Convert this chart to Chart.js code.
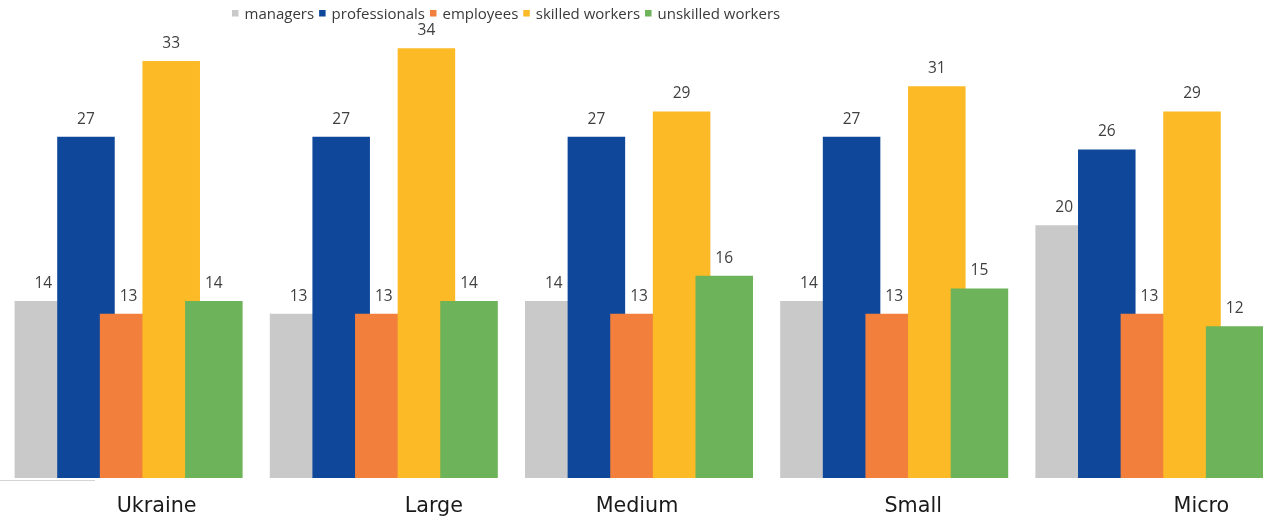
<!DOCTYPE html>
<html>
<head>
<meta charset="utf-8">
<script src="https://cdn.jsdelivr.net/npm/chart.js@4/dist/chart.umd.min.js"></script>
<style>
  html, body { margin: 0; padding: 0; background: #ffffff; overflow: hidden; }
  #wrap { position: relative; width: 1278px; height: 517px; }
</style>
</head>
<body>
<div id="wrap"><canvas id="chart"></canvas></div>
<script>
// Share of staff by occupational group, by enterprise size (%)
const categories = ['Ukraine', 'Large', 'Medium', 'Small', 'Micro'];
const seriesNames = ['managers', 'professionals', 'employees', 'skilled workers', 'unskilled workers'];

const managers         = [14, 13, 14, 14, 20];
const professionals    = [27, 27, 27, 27, 26];
const employees        = [13, 13, 13, 13, 13];
const skilledWorkers   = [33, 34, 29, 31, 29];
const unskilledWorkers = [14, 14, 16, 15, 12];

const seriesColors = ['#c9c9c9', '#0f489a', '#f27f3b', '#fcba27', '#6cb359'];

// horizontal nudge of each category caption relative to its group centre
const captionShift = [28, 50, -2, 19, 52];

const seriesValues = [managers, professionals, employees, skilledWorkers, unskilledWorkers];

const datasets = seriesNames.map((name, i) => ({
  label: name,
  data: seriesValues[i],
  backgroundColor: seriesColors[i],
  borderWidth: 0,
  categoryPercentage: 0.835,
  barPercentage: 1.35
}));

// Bars overlap; paint them left to right so each one sits on top of its left neighbour.
const overlapPainter = {
  id: 'overlapPainter',
  beforeDatasetsDraw(chart) {
    for (let i = 0; i < chart.data.datasets.length; i++) {
      const meta = chart.getDatasetMeta(i);
      if (!meta.hidden) meta.controller.draw();
    }
    return false;
  },
  afterDraw(chart) {
    const ctx = chart.ctx;
    const area = chart.chartArea;
    ctx.save();

    // short baseline stub at the left
    ctx.strokeStyle = '#d4d4d4';
    ctx.lineWidth = 1;
    ctx.beginPath();
    ctx.moveTo(0, area.bottom + 2.5);
    ctx.lineTo(95, area.bottom + 2.5);
    ctx.stroke();

    // value labels above each bar
    ctx.font = '15.5px "Open Sans", sans-serif';
    ctx.fillStyle = '#404040';
    ctx.textAlign = 'center';
    ctx.textBaseline = 'alphabetic';
    chart.data.datasets.forEach((ds, i) => {
      const meta = chart.getDatasetMeta(i);
      meta.data.forEach((bar, j) => {
        ctx.fillText(String(ds.data[j]), bar.x, bar.y - 13);
      });
    });

    // category captions
    const xScale = chart.scales.x;
    ctx.font = '20.7px "DejaVu Sans", sans-serif';
    ctx.fillStyle = '#1a1a1a';
    categories.forEach((c, j) => {
      ctx.fillText(c, xScale.getPixelForValue(j) + captionShift[j], area.bottom + 34);
    });

    // legend row
    ctx.font = '15px "Open Sans", sans-serif';
    ctx.textAlign = 'left';
    let x = 232;
    seriesNames.forEach((name, i) => {
      ctx.fillStyle = seriesColors[i];
      ctx.fillRect(x, 10, 6.5, 6.5);
      x += 6.5 + 6;
      ctx.fillStyle = '#3a3a3a';
      ctx.fillText(name, x, 19);
      x += ctx.measureText(name).width + 5;
    });

    ctx.restore();
  }
};

new Chart(document.getElementById('chart'), {
  type: 'bar',
  data: { labels: categories, datasets },
  plugins: [overlapPainter],
  options: {
    responsive: true,
    maintainAspectRatio: false,
    animation: false,
    devicePixelRatio: 1,
    layout: { padding: { left: 1, right: 1, top: 23, bottom: 39 } },
    plugins: {
      legend: { display: false },
      tooltip: { enabled: false }
    },
    scales: {
      x: { display: false, grid: { display: false } },
      y: { display: false, min: 0, max: 36, grid: { display: false } }
    }
  }
});
</script>
</body>
</html>
